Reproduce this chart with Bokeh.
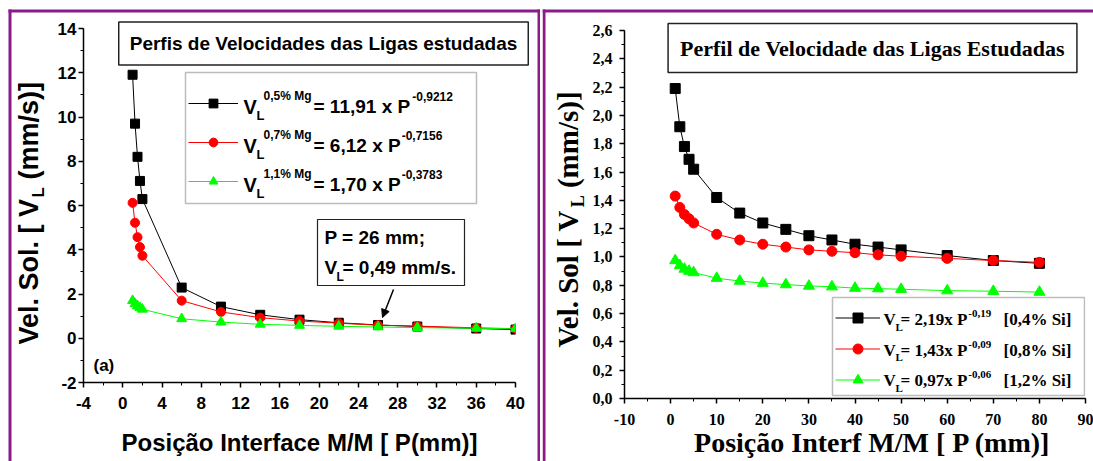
import math
from bokeh.plotting import figure
from bokeh.models import (Range1d, Label, BoxAnnotation, Legend, LegendItem, Arrow,
                          NormalHead, CustomJSTickFormatter, FixedTicker, GridBox)
from bokeh.layouts import column
from bokeh.embed import file_html
from bokeh.resources import INLINE
from bokeh.core.properties import value

# ---------------- data ----------------
# left panel: Al-Mg alloys, position P (mm) vs V_L (mm/s)
p_mg = [1, 1.25, 1.5, 1.75, 2, 6, 10, 14, 18, 22, 26, 30, 36, 40]
vl_05mg = [11.91, 9.70, 8.20, 7.11, 6.29, 2.29, 1.43, 1.06, 0.84, 0.70, 0.60, 0.53, 0.44, 0.39]
vl_07mg = [6.12, 5.22, 4.57, 4.12, 3.73, 1.70, 1.19, 0.93, 0.78, 0.68, 0.59, 0.55, 0.47, 0.43]
vl_11mg = [1.70, 1.56, 1.46, 1.38, 1.31, 0.88, 0.73, 0.63, 0.58, 0.54, 0.51, 0.48, 0.45, 0.43]
mg_sup = ["0,5% Mg", "0,7% Mg", "1,1% Mg"]
mg_eq = ["= 11,91 x P", "= 6,12 x P", "= 1,70 x P"]
mg_exp = ["-0,9212", "-0,7156", "-0,3783"]

# right panel: Al-Si alloys
p_si = [1, 2, 3, 4, 5, 10, 15, 20, 25, 30, 35, 40, 45, 50, 60, 70, 80]
vl_04si = [2.19, 1.92, 1.78, 1.69, 1.62, 1.42, 1.31, 1.24, 1.195, 1.15, 1.12, 1.09, 1.07, 1.05, 1.01, 0.975, 0.955]
vl_08si = [1.43, 1.35, 1.30, 1.27, 1.24, 1.16, 1.12, 1.09, 1.07, 1.05, 1.04, 1.03, 1.015, 1.005, 0.99, 0.975, 0.962]
vl_12si = [0.975, 0.94, 0.915, 0.90, 0.89, 0.85, 0.83, 0.815, 0.805, 0.795, 0.79, 0.78, 0.776, 0.772, 0.762, 0.758, 0.752]
si_eq = ["= 2,19x P", "= 1,43x P", "= 0,97x P"]
si_exp = ["-0,19", "-0,09", "-0,06"]
si_tag = ["[0,4% Si]", "[0,8% Si]", "[1,2% Si]"]

left_xticks = list(range(-4, 41, 4))
left_yticks = list(range(-2, 15, 2))
right_xticks = list(range(-10, 91, 10))
right_yticks = [round(0.2 * i, 1) for i in range(14)]

# ---------------- styling ----------------
SANS = "Liberation Sans"
SERIF = "Liberation Serif"
PURPLE = "#8B1A8B"
BLACK, RED, GREEN = "#000000", "#FF0000", "#00FF00"
H = 461

ARIAL = {' ': 278, '%': 889, '(': 333, ')': 333, ',': 278, '-': 333, '.': 278, '/': 278, ';': 333,
         '=': 584, '[': 333, ']': 333, 'I': 278, 'L': 611, 'M': 833, 'P': 667, 'S': 667, 'V': 667,
         'a': 556, 'c': 556, 'e': 556, 'f': 333, 'g': 611, 'i': 278, 'l': 278, 'm': 889, 'n': 611,
         'o': 611, 'r': 389, 's': 556, 't': 333, 'x': 556, 'ç': 556, 'ã': 556}
TIMES = {' ': 250, '%': 1000, '(': 333, ')': 333, ',': 250, '-': 333, '.': 250, '/': 278, '=': 570,
         '[': 333, ']': 333, 'I': 389, 'L': 667, 'M': 944, 'P': 611, 'S': 556, 'V': 722, 'a': 500,
         'c': 444, 'e': 444, 'f': 333, 'i': 278, 'l': 278, 'm': 833, 'n': 556, 'o': 500, 'r': 444,
         's': 389, 't': 333, 'x': 500, 'ç': 444, 'ã': 500}
for d in "0123456789":
    ARIAL[d] = 556
    TIMES[d] = 500
MID = {SANS: 0.347, SERIF: 0.338}   # em-box middle above the baseline
TABLE = {SANS: ARIAL, SERIF: TIMES}


def tw(s, size, table):
    return sum(table.get(c, 500) for c in s) * size / 1000.0


# page-pixel -> data helpers for the two plot frames
L_FR = (83, 515, 28, 382)      # left, right, top, bottom (page px)
R_FR = (624, 1085, 30, 398)


def lx(px):
    return -4 + (px - L_FR[0]) * 44.0 / (L_FR[1] - L_FR[0])


def ly(py):
    return -2 + (L_FR[3] - py) * 16.0 / (L_FR[3] - L_FR[2])


def rx(px):
    return -10 + (px - R_FR[0]) * 100.0 / (R_FR[1] - R_FR[0])


def ry(py):
    return (R_FR[3] - py) * 2.6 / (R_FR[3] - R_FR[2])


def txt(p, x, y, s, size, font, rot=False, align="left", **kw):
    # (x, y): start of the text's baseline (page px); drawn with a "middle" anchor
    lead = len(s) - len(s.lstrip(" "))
    shift = tw(" " * lead, size, TABLE[font])   # leading blanks collapse in SVG
    s = s.lstrip(" ")
    off = MID[font] * size
    if rot:
        x, y, ang = x - off, y - shift, math.pi / 2
    else:
        x, y, ang = x + shift, y - off, 0.0
    p.add_layout(Label(x=x, y=y, text=s, text_font=font, text_font_size=f"{size}px",
                       text_font_style="bold", text_color="black", angle=ang,
                       text_align=align, text_baseline="middle", **kw))


def boxed(p, cx, cy, s, size, font, pad):
    p.add_layout(Label(x=cx, y=cy, text=s, text_font=font, text_font_size=f"{size}px",
                       text_font_style="bold", text_color="black", text_align="center",
                       text_baseline="middle", padding=pad, background_fill_color="white",
                       background_fill_alpha=1, border_line_color="#222222",
                       border_line_width=1.5))


def rect(p, l, r, t, b, fill=None, line=None, lw=1.0):
    p.add_layout(BoxAnnotation(left=l, right=r, top=t, bottom=b,
                               fill_color=fill if fill else "white",
                               fill_alpha=1 if fill else 0,
                               line_color=line if line else "white",
                               line_alpha=1 if line else 0, line_width=lw))


def style_axes(p, font, size, ystand, xstand):
    for ax in (p.xaxis[0], p.yaxis[0]):
        ax.axis_line_width = 1.5
        ax.axis_line_color = "black"
        ax.major_tick_line_width = 1.5
        ax.minor_tick_line_width = 1
        ax.major_tick_in = 0
        ax.major_tick_out = 5
        ax.minor_tick_in = 0
        ax.minor_tick_out = 3
        ax.major_label_text_font = font
        ax.major_label_text_font_size = f"{size}px"
        ax.major_label_text_font_style = "bold"
        ax.major_label_text_color = "black"
    p.yaxis[0].major_label_standoff = ystand
    p.xaxis[0].major_label_standoff = xstand
    p.xgrid.visible = False
    p.ygrid.visible = False
    p.outline_line_color = None


def overlay(x0, w):
    # transparent figure laid over a panel; its data units are page pixels
    o = figure(width=w, height=H, x_range=Range1d(x0, x0 + w), y_range=Range1d(H, 0),
               min_border=0, min_border_left=0, min_border_right=0, min_border_top=0,
               min_border_bottom=0, x_axis_location=None, y_axis_location=None,
               output_backend="svg", toolbar_location=None, border_fill_alpha=0,
               background_fill_alpha=0, outline_line_color=None)
    o.grid.visible = False
    return o


# ---------------- left panel (data) ----------------
LX0, LW = 0, 540
p1 = figure(width=LW, height=H, min_border_left=L_FR[0] - LX0, min_border_right=LX0 + LW - L_FR[1],
            min_border_top=L_FR[2], min_border_bottom=H - L_FR[3], x_range=Range1d(-4, 40),
            y_range=Range1d(-2, 14), output_backend="svg", toolbar_location=None,
            border_fill_alpha=0)
p1.xaxis.ticker = FixedTicker(ticks=left_xticks, minor_ticks=list(range(-4, 41, 2)))
p1.yaxis.ticker = FixedTicker(ticks=left_yticks, minor_ticks=list(range(-2, 15, 1)))
p1.xaxis.formatter = CustomJSTickFormatter(code="return String(tick);")
p1.yaxis.formatter = CustomJSTickFormatter(code="return String(tick);")
style_axes(p1, SANS, 17, 2, 9)

p1.add_layout(BoxAnnotation(left=lx(185), right=lx(476), top=ly(72), bottom=ly(203),
                            fill_color="white", fill_alpha=1, line_color="#222222",
                            line_width=1.5, level="underlay"))

l1 = p1.line(p_mg, vl_05mg, line_color=BLACK, line_width=1)
s1 = p1.scatter(p_mg, vl_05mg, marker="square", size=9, fill_color=BLACK, line_color=BLACK)
l2 = p1.line(p_mg, vl_07mg, line_color=RED, line_width=1)
s2 = p1.scatter(p_mg, vl_07mg, marker="circle", size=9, fill_color=RED, line_color=RED)
l3 = p1.line(p_mg, vl_11mg, line_color=GREEN, line_width=1)
s3 = p1.scatter(p_mg, vl_11mg, marker="triangle", size=10, fill_color=GREEN, line_color=GREEN)

leg1 = Legend(items=[LegendItem(label=value(" "), renderers=[l1, s1]),
                     LegendItem(label=value(" "), renderers=[l2, s2]),
                     LegendItem(label=value(" "), renderers=[l3, s3])],
              location=(188 - L_FR[0], L_FR[3] - 192), orientation="vertical", padding=0,
              margin=0, spacing=17, glyph_width=50, glyph_height=22, label_height=22,
              label_width=10, label_standoff=0, border_line_alpha=0, background_fill_alpha=0,
              label_text_font_size="8px")
p1.add_layout(leg1)

# ---------------- left panel (overlay texts, page-pixel units) ----------------
o1 = overlay(LX0, LW)
rect(o1, 8, 11, 9, H, fill=PURPLE)
rect(o1, 8, 540, 9, 12, fill=PURPLE)
rect(o1, 537, 540, 9, H, fill=PURPLE)
rect(o1, 317, 464, 219, 285, fill="white", line="#222222", lw=1.2)

for i in range(3):
    b = 113 + 39 * i
    txt(o1, 243, b, "V", 20, SANS)
    txt(o1, 256, b + 7, "L", 13, SANS)
    txt(o1, 263, b - 13, mg_sup[i], 12, SANS)
    txt(o1, 313, b, mg_eq[i], 19, SANS)
    txt(o1, 313 + tw(mg_eq[i], 19, ARIAL) + 1, b - 13, mg_exp[i], 12, SANS)

boxed(o1, 323, 43, "Perfis de Velocidades das Ligas estudadas", 19, SANS, 11)

txt(o1, 324, 244, "P = 26 mm;", 19, SANS)
txt(o1, 324, 274, "V", 19, SANS)
txt(o1, 336, 281, "L", 12, SANS)
txt(o1, 342, 274, "= 0,49 mm/s.", 19, SANS)
o1.add_layout(Arrow(end=NormalHead(size=8, fill_color="black", line_color="black"),
                    x_start=393, y_start=289, x_end=382, y_end=317,
                    line_color="black", line_width=1.5))
txt(o1, 93, 371, "(a)", 17, SANS)

ya, yb = "Vel. Sol. [ V", " (mm/s)]"
y0 = 344
txt(o1, 38, y0, ya, 27, SANS, rot=True)
txt(o1, 44, y0 - tw(ya, 27, ARIAL), "L", 17, SANS, rot=True)
txt(o1, 38, y0 - tw(ya, 27, ARIAL) - tw("L", 17, ARIAL), yb, 27, SANS, rot=True)
txt(o1, 299, 450, "Posição Interface M/M [ P(mm)]", 24, SANS, align="center")

# ---------------- right panel (data) ----------------
RX0, RW = 542, 551
p2 = figure(width=RW, height=H, min_border_left=R_FR[0] - RX0, min_border_right=RX0 + RW - R_FR[1],
            min_border_top=R_FR[2], min_border_bottom=H - R_FR[3], x_range=Range1d(-10, 90),
            y_range=Range1d(0, 2.6), output_backend="svg", toolbar_location=None,
            border_fill_alpha=0)
p2.xaxis.ticker = FixedTicker(ticks=right_xticks, minor_ticks=list(range(-10, 91, 5)))
p2.yaxis.ticker = FixedTicker(ticks=right_yticks, minor_ticks=[round(0.1 * i, 1) for i in range(27)])
p2.xaxis.formatter = CustomJSTickFormatter(code="return String(tick);")
p2.yaxis.formatter = CustomJSTickFormatter(code="return tick.toFixed(1).replace('.', ',');")
style_axes(p2, SERIF, 16, 7, 10)

p2.add_layout(BoxAnnotation(left=rx(832), right=rx(1084), top=ry(297), bottom=ry(395),
                            fill_color="white", fill_alpha=1, line_color="#222222",
                            line_width=1.5, level="underlay"))

m1 = p2.line(p_si, vl_04si, line_color=BLACK, line_width=1)
n1 = p2.scatter(p_si, vl_04si, marker="square", size=10, fill_color=BLACK, line_color=BLACK)
m2 = p2.line(p_si, vl_08si, line_color=RED, line_width=1)
n2 = p2.scatter(p_si, vl_08si, marker="circle", size=10, fill_color=RED, line_color=RED)
m3 = p2.line(p_si, vl_12si, line_color=GREEN, line_width=1)
n3 = p2.scatter(p_si, vl_12si, marker="triangle", size=11, fill_color=GREEN, line_color=GREEN)

leg2 = Legend(items=[LegendItem(label=value(" "), renderers=[m1, n1]),
                     LegendItem(label=value(" "), renderers=[m2, n2]),
                     LegendItem(label=value(" "), renderers=[m3, n3])],
              location=(835 - R_FR[0], R_FR[3] - 392), orientation="vertical", padding=0,
              margin=0, spacing=6, glyph_width=45, glyph_height=25, label_height=25,
              label_width=10, label_standoff=0, border_line_alpha=0, background_fill_alpha=0,
              label_text_font_size="8px")
p2.add_layout(leg2)

# ---------------- right panel (overlay texts) ----------------
o2 = overlay(RX0, RW)
rect(o2, 542, 545, 9, H, fill=PURPLE)
rect(o2, 542, 1093, 9, 12, fill=PURPLE)

for i in range(3):
    b = 325 + 30.5 * i
    txt(o2, 883, b, "V", 17, SERIF)
    txt(o2, 895, b + 5, "L", 11, SERIF)
    txt(o2, 900, b, si_eq[i], 17, SERIF)
    txt(o2, 900 + tw(si_eq[i], 17, TIMES) + 1, b - 8, si_exp[i], 11, SERIF)
    txt(o2, 1003, b, si_tag[i], 17, SERIF)

boxed(o2, 872, 47.5, "Perfil de Velocidade das Ligas Estudadas", 22, SERIF, 12)

ra, rb = "Vel. Sol [ V", " (mm/s)]"
r0 = 347
txt(o2, 577, r0, ra, 29, SERIF, rot=True)
txt(o2, 584, r0 - tw(ra, 29, TIMES), "L", 18, SERIF, rot=True)
txt(o2, 577, r0 - tw(ra, 29, TIMES) - tw("L", 18, TIMES), rb, 29, SERIF, rot=True)
txt(o2, 872, 451, "Posição Interf M/M [ P (mm)]", 28, SERIF, align="center")

layout = GridBox(children=[(column(p1), 0, 0), (column(o1), 0, 0),
                           (column(p2), 0, 1), (column(o2), 0, 1)], spacing=2)
open("out.html", "w").write(file_html(layout, INLINE))
